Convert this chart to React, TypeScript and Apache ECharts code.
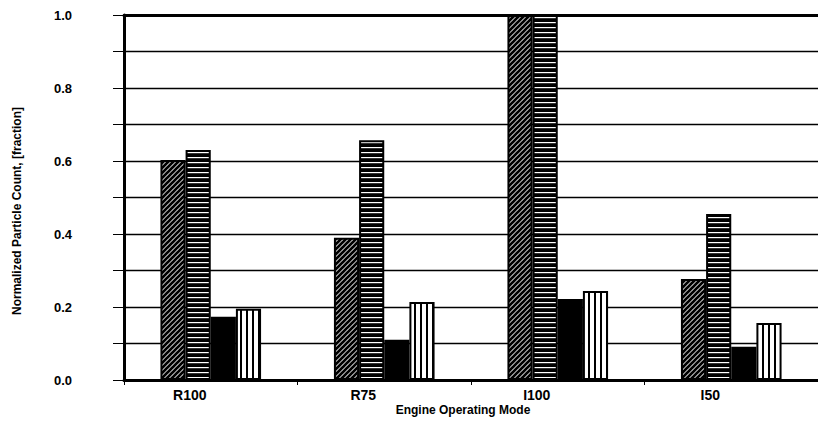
import React, { useEffect, useRef } from "react";
import * as echarts from "echarts";

const categories = ["R100", "R75", "I100", "I50"];
const seriesA = [0.603, 0.39, 1.0, 0.277]; // diagonal hatch
const seriesB = [0.63, 0.657, 1.0, 0.455]; // horizontal stripes
const seriesC = [0.173, 0.11, 0.222, 0.091]; // solid black
const seriesD = [0.195, 0.214, 0.244, 0.156]; // vertical stripes
const yTicks = [0, 0.2, 0.4, 0.6, 0.8, 1.0];

function makeCanvas(w: number, h: number, draw: (ctx: CanvasRenderingContext2D) => void) {
  const c = document.createElement("canvas");
  c.width = w;
  c.height = h;
  const ctx = c.getContext("2d")!;
  draw(ctx);
  return c;
}

export default function App() {
  const ref = useRef<HTMLDivElement>(null);
  useEffect(() => {
    if (!ref.current) return;
    const chart = echarts.init(ref.current, undefined, { renderer: "svg" });

    const hatch = makeCanvas(5, 5, (ctx) => {
      ctx.fillStyle = "#fff";
      ctx.fillRect(0, 0, 5, 5);
      ctx.strokeStyle = "#000";
      ctx.lineWidth = 2.7;
      for (const o of [-5, 0, 5]) {
        ctx.beginPath();
        ctx.moveTo(o - 1, 6);
        ctx.lineTo(o + 6, -1);
        ctx.stroke();
      }
    });
    const horiz = makeCanvas(4, 5, (ctx) => {
      ctx.fillStyle = "#000";
      ctx.fillRect(0, 0, 4, 5);
      ctx.fillStyle = "#fff";
      ctx.fillRect(0, 2, 4, 1.2);
    });
    const vert = makeCanvas(6, 4, (ctx) => {
      ctx.fillStyle = "#fff";
      ctx.fillRect(0, 0, 6, 4);
      ctx.fillStyle = "#000";
      ctx.fillRect(0, 0, 2, 4);
    });

    const font = "'Liberation Sans', Arial, sans-serif";
    const mk = (name: string, data: number[], color: any) => ({
      name,
      type: "bar",
      data,
      barGap: "0%",
      barCategoryGap: "42%",
      itemStyle: { color, borderColor: "#000", borderWidth: 2 },
    });

    chart.setOption({
      animation: false,
      backgroundColor: "#fff",
      grid: { left: 124, top: 15, width: 700, height: 365 },
      xAxis: [
        {
          type: "category",
          data: categories,
          position: "bottom",
          axisLine: { lineStyle: { color: "#000", width: 3 } },
          axisTick: { show: true, length: 5, lineStyle: { color: "#000", width: 1 } },
          axisLabel: {
            color: "#000",
            fontFamily: font,
            fontWeight: "bold",
            fontSize: 14,
            margin: 8,
            padding: [0, 42, 0, 0],
          },
        },
        {
          type: "category",
          data: categories,
          position: "top",
          axisLine: { lineStyle: { color: "#000", width: 3 } },
          axisTick: { show: false },
          axisLabel: { show: false },
        },
      ],
      yAxis: {
        type: "value",
        min: 0,
        max: 1,
        interval: 0.1,
        axisLine: { show: true, lineStyle: { color: "#000", width: 3 } },
        axisTick: { show: true, length: 11, lineStyle: { color: "#000", width: 1 } },
        splitLine: { show: true, lineStyle: { color: "#000", width: 1.3 } },
        axisLabel: {
          color: "#000",
          fontFamily: font,
          fontWeight: "bold",
          fontSize: 13,
          margin: 52,
          formatter: (v: number) => {
            const hit = yTicks.find((t) => Math.abs(t - v) < 1e-6);
            return hit !== undefined ? hit.toFixed(1) : "";
          },
        },
      },
      graphic: [
        {
          type: "text",
          x: 17,
          y: 211,
          rotation: Math.PI / 2,
          style: {
            text: "Normalized Particle Count, [fraction]",
            fill: "#000",
            font: `bold 12px ${font}`,
            align: "center",
            verticalAlign: "middle",
          },
        },
        {
          type: "text",
          x: 463,
          y: 410,
          style: {
            text: "Engine Operating Mode",
            fill: "#000",
            font: `bold 12px ${font}`,
            align: "center",
            verticalAlign: "middle",
          },
        },
      ],
      series: [
        mk("A", seriesA, { image: hatch, repeat: "repeat" }),
        mk("B", seriesB, { image: horiz, repeat: "repeat" }),
        mk("C", seriesC, "#000"),
        mk("D", seriesD, { image: vert, repeat: "repeat" }),
      ],
    });
    return () => chart.dispose();
  }, []);
  return (
    <div
      ref={ref}
      style={{ position: "fixed", left: 0, top: 0, width: 818, height: 423, background: "#fff" }}
    />
  );
}
